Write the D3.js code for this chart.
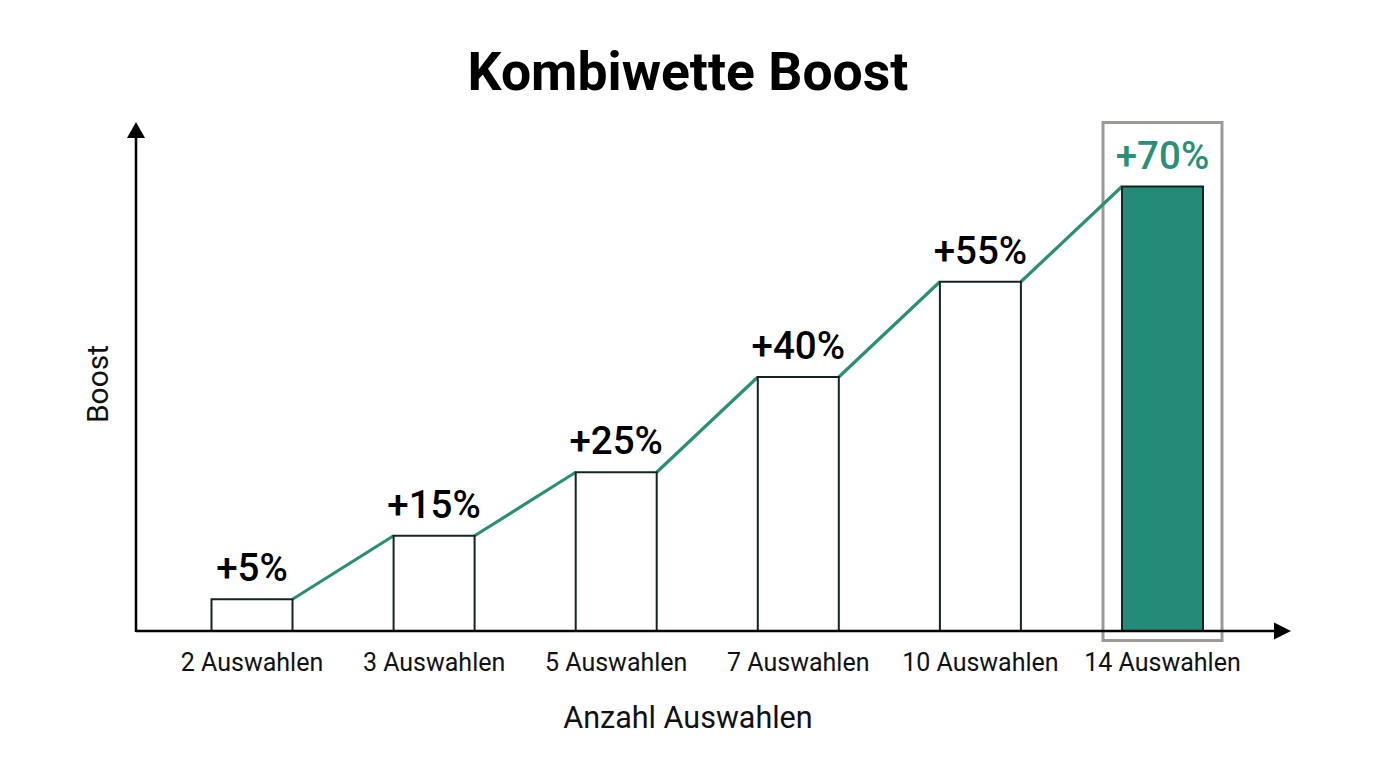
<!DOCTYPE html>
<html>
<head>
<meta charset="utf-8">
<script src="https://cdn.jsdelivr.net/npm/d3@7"></script>
<style>
  body { margin: 0; background: #fff; }
  text { font-family: Roboto, "Noto Sans", sans-serif; }
</style>
</head>
<body>
<svg id="chart" width="1376" height="768"></svg>
<script>
var categories = ['2 Auswahlen', '3 Auswahlen', '5 Auswahlen', '7 Auswahlen', '10 Auswahlen', '14 Auswahlen']
var boost = [5, 15, 25, 40, 55, 70]
var labels = ['+5%', '+15%', '+25%', '+40%', '+55%', '+70%']
var highlight = '14 Auswahlen'

var teal = '#238b78'
var svg = d3.select('#chart')

var x = d3.scalePoint()
  .domain(categories)
  .range([252, 1162.5])
var barW = 81

var y = d3.scaleLinear()
  .domain([0, 70])
  .range([631, 186.5])

// title
svg.append('text')
  .attr('x', 688).attr('y', 90)
  .attr('text-anchor', 'middle')
  .attr('font-size', 53.5)
  .attr('font-weight', 700)
  .attr('fill', '#000')
  .text('Kombiwette Boost')

// highlight box behind last bar
svg.append('rect')
  .attr('x', x(highlight) - 59.5)
  .attr('y', 122.5)
  .attr('width', 119)
  .attr('height', 518)
  .attr('fill', '#fff')
  .attr('stroke', '#9b9b96')
  .attr('stroke-width', 3)

// connecting line: top-right of each bar to top-left of the next
var pts = []
boost.forEach(function(v, i) {
  pts.push([x(categories[i]) - barW / 2, y(v)])
  pts.push([x(categories[i]) + barW / 2, y(v)])
})
var segs = []
for (var i = 1; i < pts.length - 1; i += 2) segs.push([pts[i], pts[i + 1]])
svg.selectAll('.conn')
  .data(segs)
  .enter().append('line')
  .attr('class', 'conn')
  .attr('x1', function(d) { return d[0][0] })
  .attr('y1', function(d) { return d[0][1] })
  .attr('x2', function(d) { return d[1][0] })
  .attr('y2', function(d) { return d[1][1] })
  .attr('stroke', '#2a8f74')
  .attr('stroke-width', 3.2)

// bars
svg.selectAll('.bar')
  .data(boost)
  .enter().append('rect')
  .attr('class', 'bar')
  .attr('x', function(d, i) { return x(categories[i]) - barW / 2 })
  .attr('y', function(d) { return y(d) })
  .attr('width', barW)
  .attr('height', function(d) { return y(0) - y(d) })
  .attr('fill', function(d, i) { return categories[i] === highlight ? teal : '#fff' })
  .attr('stroke', '#152323')
  .attr('stroke-width', 2)

// value labels
svg.selectAll('.val')
  .data(boost)
  .enter().append('text')
  .attr('class', 'val')
  .attr('x', function(d, i) { return x(categories[i]) })
  .attr('y', function(d) { return y(d) - 18 })
  .attr('text-anchor', 'middle')
  .attr('font-size', 38.5)
  .attr('font-weight', 500)
  .attr('fill', function(d, i) { return categories[i] === highlight ? '#2a8f78' : '#000' })
  .text(function(d, i) { return labels[i] })

// axes with arrows
svg.append('line')
  .attr('x1', 136).attr('y1', y(0)).attr('x2', 1276).attr('y2', y(0))
  .attr('stroke', '#000').attr('stroke-width', 2.5)
svg.append('line')
  .attr('x1', 136).attr('y1', y(0) + 1).attr('x2', 136).attr('y2', 136)
  .attr('stroke', '#000').attr('stroke-width', 2.5)
svg.append('path')
  .attr('d', 'M1291,631 L1274,622.5 L1274,639.5 Z')
  .attr('fill', '#000')
svg.append('path')
  .attr('d', 'M136,122 L127,138 L145,138 Z')
  .attr('fill', '#000')

// x tick labels
svg.selectAll('.tick-label')
  .data(categories)
  .enter().append('text')
  .attr('class', 'tick-label')
  .attr('x', function(d) { return x(d) })
  .attr('y', 671)
  .attr('text-anchor', 'middle')
  .attr('font-size', 25)
  .attr('fill', '#111')
  .text(function(d) { return d })

// axis titles
svg.append('text')
  .attr('x', 688).attr('y', 728)
  .attr('text-anchor', 'middle')
  .attr('font-size', 30.5)
  .attr('fill', '#111')
  .text('Anzahl Auswahlen')

svg.append('text')
  .attr('transform', 'translate(108,384) rotate(-90)')
  .attr('text-anchor', 'middle')
  .attr('font-size', 30)
  .attr('fill', '#111')
  .text('Boost')
</script>
</body>
</html>
